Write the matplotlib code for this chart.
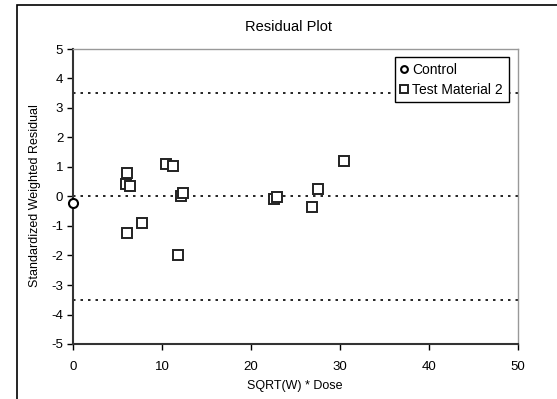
import matplotlib
matplotlib.use("Agg")
import matplotlib.pyplot as plt
from matplotlib.patches import Rectangle

plt.rcParams['font.family'] = ['Liberation Sans', 'DejaVu Sans']
plt.rcParams['axes.unicode_minus'] = False

# data
control_x = [0.0]
control_y = [-0.22]
test_x = [6.1, 5.9, 6.4, 6.07, 7.7, 10.45, 11.2, 11.8, 12.1, 12.4,
          22.6, 22.9, 26.8, 27.5, 30.4]
test_y = [0.81, 0.42, 0.36, -1.24, -0.9, 1.09, 1.04, -1.99, 0.03, 0.13,
          -0.08, -0.03, -0.37, 0.26, 1.2]
ref_lines = [3.5, 0.0, -3.5]
xticks = [0, 10, 20, 30, 40, 50]
yticks = [-5, -4, -3, -2, -1, 0, 1, 2, 3, 4, 5]

W, H = 557, 399
fig = plt.figure(figsize=(W / 100, H / 100), dpi=100)
ax = fig.add_axes([73 / W, 1 - 344 / H, (518 - 73) / W, (344 - 49) / H])

# outer chart border (runs off the right and bottom edges)
fig.patches.append(Rectangle((17 / W, -0.1), 1.0, 1 - 5 / H + 0.1,
                             transform=fig.transFigure, fill=False,
                             edgecolor='black', lw=1.2, zorder=0))

for yv in ref_lines:
    ax.axhline(yv, color='black', lw=1.2, ls=(0, (1.5, 3)), zorder=1)

ax.plot(control_x, control_y, ls='none', marker='o', ms=6.5, mfc='white',
        mec='black', mew=1.5, label='Control', zorder=3, clip_on=False)
ax.plot(test_x, test_y, ls='none', marker='s', ms=7, mfc='white',
        mec='#222222', mew=1.4, label='Test Material 2', zorder=3)

ax.set_xlim(0, 50)
ax.set_ylim(-5, 5)
ax.set_xticks(xticks)
ax.set_yticks(yticks)
ax.tick_params(direction='out', length=4, width=1, labelsize=9.5,
               colors='black', pad=3)
ax.tick_params(axis='x', pad=8)

ax.spines['left'].set_color('#333333')
ax.spines['left'].set_linewidth(1.5)
ax.spines['bottom'].set_color('#333333')
ax.spines['bottom'].set_linewidth(1.5)
ax.spines['top'].set_color('#999999')
ax.spines['right'].set_color('#999999')
ax.spines['top'].set_linewidth(1)
ax.spines['right'].set_linewidth(1)

fig.text(289 / W, 1 - 27 / H, 'Residual Plot', ha='center', va='center',
         fontsize=10.5)
fig.text(35 / W, 1 - 196 / H, 'Standardized Weighted Residual', ha='center',
         va='center', rotation=90, fontsize=9)
fig.text(295 / W, 1 - 386 / H, 'SQRT(W) * Dose', ha='center', va='center',
         fontsize=9)

leg = ax.legend(loc='upper left', bbox_to_anchor=((395 - 73) / (518 - 73), 1 - (57 - 49) / (344 - 49)),
                frameon=True, fancybox=False, framealpha=1, edgecolor='black',
                fontsize=10, handlelength=0.5, handletextpad=0.35,
                borderpad=0.4, labelspacing=0.45, borderaxespad=0,
                markerscale=0.75)
leg.get_frame().set_linewidth(1.0)
leg.set_zorder(5)

fig.savefig('out.png', dpi=100)
